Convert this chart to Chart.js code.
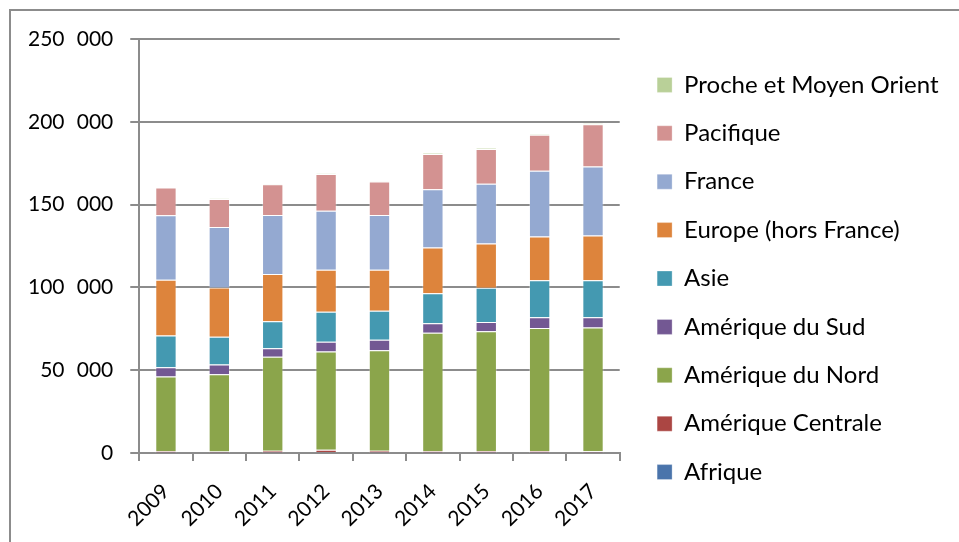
<!DOCTYPE html>
<html>
<head>
<meta charset="utf-8">
<script src="https://cdn.jsdelivr.net/npm/chart.js@4"></script>
<style>
  html, body { margin: 0; padding: 0; background: #fff; overflow: hidden; }
  #wrap { position: relative; width: 959px; height: 542px; }
  #frame { position: absolute; left: 9px; top: 9px; width: 1200px; height: 1200px; border: 2px solid #8c8c8c; box-sizing: border-box; }
</style>
</head>
<body>
<div id="wrap">
  <div id="frame"></div>
  <canvas id="regionChart"></canvas>
</div>
<script>
// Years and values per region
const years = ['2009', '2010', '2011', '2012', '2013', '2014', '2015', '2016', '2017'];
const afrique = [300, 250, 350, 400, 350, 300, 350, 300, 300];
const ameriqueCentrale = [800, 700, 1000, 1600, 1000, 800, 900, 900, 700];
const ameriqueNord = [45050, 46590, 56710, 59270, 60700, 71580, 72220, 74340, 74720];
const ameriqueSud = [5620, 5860, 5200, 5860, 6290, 5650, 5710, 6430, 6250];
const asie = [19170, 16760, 16330, 18150, 17540, 18210, 20640, 22290, 22290];
const europe = [33690, 29810, 28430, 25400, 24800, 27570, 26720, 26530, 27140];
const france = [38890, 36470, 35680, 35680, 33020, 35220, 36010, 39650, 41650];
const pacifique = [16750, 16940, 18570, 22140, 20200, 21250, 21060, 21680, 25500];
const procheOrient = [200, 250, 200, 250, 250, 450, 400, 450, 600];
const yTicks = [0, 50000, 100000, 150000, 200000, 250000];

Chart.defaults.font.family = "Lato, 'Noto Sans', sans-serif";
Chart.defaults.font.size = 21;
Chart.defaults.color = '#000';

const gridGrey = '#8c8c8c';
const legendGap = 13;   // extra space between plot and legend
const legendLift = 12;  // move legend items up a little

function series(label, data, color) {
    return {
        label: label,
        data: data,
        backgroundColor: color,
        borderColor: 'rgba(255, 255, 255, 0.3)',
        borderWidth: 1,
        categoryPercentage: 1,
        barPercentage: 0.4
    };
}

// widen the legend box on its left side only
const legendShift = {
    id: 'legendShift',
    beforeInit(chart) {
        const legend = chart.legend;
        const fit = legend.fit;
        legend.fit = function() { fit.call(this); this.width += legendGap; };
    },
    afterLayout(chart) {
        const legend = chart.legend;
        legend.left += legendGap;
        legend.top -= legendLift;
        legend.bottom -= legendLift;
    }
};

const ctx = document.getElementById('regionChart').getContext('2d');
new Chart(ctx, {
    type: 'bar',
    data: {
        labels: years,
        datasets: [
            series('Afrique', afrique, '#4a74ab'),
            series('Amérique Centrale', ameriqueCentrale, '#ab4643'),
            series('Amérique du Nord', ameriqueNord, '#8ba54b'),
            series('Amérique du Sud', ameriqueSud, '#735893'),
            series('Asie', asie, '#4499b1'),
            series('Europe (hors France)', europe, '#dd843c'),
            series('France', france, '#94a9d1'),
            series('Pacifique', pacifique, '#d39291'),
            series('Proche et Moyen Orient', procheOrient, '#b9d098')
        ]
    },
    plugins: [legendShift],
    options: {
        responsive: true,
        maintainAspectRatio: false,
        animation: false,
        layout: { padding: { top: 39, left: 11, right: 10.5, bottom: 0 } },
        plugins: {
            tooltip: { enabled: false },
            legend: {
                position: 'right',
                reverse: true,
                maxWidth: 420,
                labels: {
                    boxWidth: 15,
                    boxHeight: 15,
                    padding: 24.4,
                    color: '#000',
                    font: { size: 24 }
                }
            }
        },
        scales: {
            x: {
                stacked: true,
                afterFit: axis => { axis.height = 89; },
                grid: { drawOnChartArea: false, color: gridGrey, lineWidth: 2, tickLength: 8 },
                border: { color: gridGrey, width: 2 },
                ticks: { minRotation: 45, maxRotation: 45, color: '#000', padding: 18 }
            },
            y: {
                stacked: true,
                min: 0,
                max: 250000,
                afterBuildTicks: axis => { axis.ticks = yTicks.map(v => ({ value: v })); },
                grid: { color: gridGrey, lineWidth: 2, tickLength: 9 },
                border: { color: gridGrey, width: 2 },
                ticks: {
                    color: '#000',
                    padding: 17,
                    callback: function(value) { return value.toLocaleString('en-US').replace(/,/g, '\u2007'); }
                }
            }
        }
    }
});
</script>
</body>
</html>
